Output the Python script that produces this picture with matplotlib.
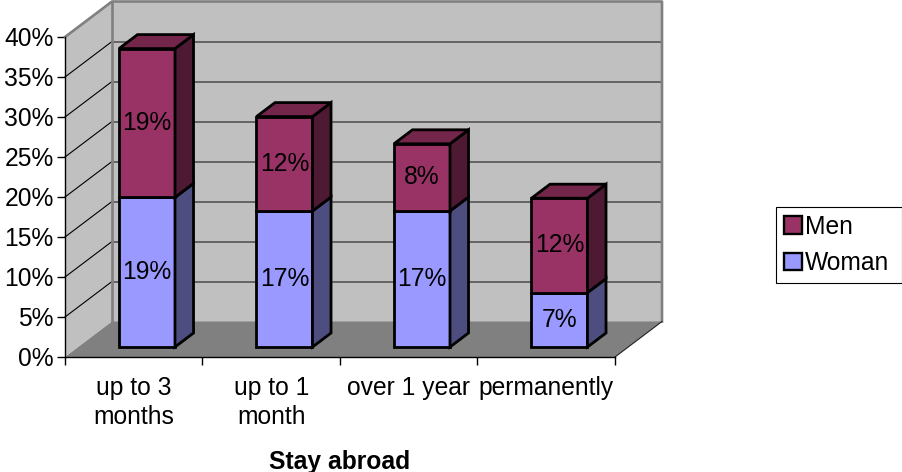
import matplotlib
matplotlib.use('Agg')
import matplotlib.pyplot as plt
from matplotlib.patches import Polygon, Patch, Rectangle

plt.rcParams['font.family'] = ['Liberation Sans', 'DejaVu Sans']

categories = ['up to 3\nmonths', 'up to 1\nmonth', 'over 1 year', 'permanently']
series_names = ['Woman', 'Men']
woman = [18.7, 17.0, 17.0, 6.8]
men = [18.6, 11.8, 8.4, 11.8]
y_ticks = [0, 5, 10, 15, 20, 25, 30, 35, 40]

FONT = 17.7

# depth of the fake 3d box, in axis units
DX = 47 / 137.5
DY = 35.5 / 8
BAR_W = 56 / 137.5
D0 = 10 / 35.5
D1 = 24 / 35.5


def proj(x, y, d):
    return (x + d * DX, y + d * DY)


def box(ax, x, y0, y1, front, side, top=None):
    left = x - BAR_W / 2
    right = x + BAR_W / 2
    faces = [
        ([proj(left, y0, D0), proj(right, y0, D0), proj(right, y1, D0), proj(left, y1, D0)], front),
        ([proj(right, y0, D0), proj(right, y0, D1), proj(right, y1, D1), proj(right, y1, D0)], side),
    ]
    if top is not None:
        faces.append(([proj(left, y1, D0), proj(right, y1, D0), proj(right, y1, D1), proj(left, y1, D1)], top))
    for pts, col in faces:
        ax.add_patch(Polygon(pts, closed=True, facecolor=col, edgecolor='black', lw=2.0,
                             joinstyle='miter', clip_on=False, zorder=5))


fig = plt.figure(figsize=(9.03, 4.72), dpi=100, facecolor='white')
ax = fig.add_axes([65 / 903, (472 - 357) / 472, 550 / 903, 320 / 472])
ax.patch.set_visible(False)
ax.set_xlim(0, 4)
ax.set_ylim(0, 40)

# walls and floor
ax.add_patch(Polygon([proj(0, 0, 1), proj(4, 0, 1), proj(4, 40, 1), proj(0, 40, 1)],
                     facecolor='#c0c0c0', edgecolor='none', clip_on=False, zorder=1))
ax.add_patch(Polygon([proj(0, 0, 0), proj(0, 0, 1), proj(0, 40, 1), proj(0, 40, 0)],
                     facecolor='#c0c0c0', edgecolor='none', clip_on=False, zorder=1))
ax.add_patch(Polygon([proj(0, 0, 0), proj(4, 0, 0), proj(4, 0, 1), proj(0, 0, 1)],
                     facecolor='#808080', edgecolor='none', clip_on=False, zorder=1))

for t in y_ticks[1:-1]:
    a, b = proj(0, t, 0), proj(0, t, 1)
    ax.plot([a[0], b[0]], [a[1], b[1]], color='black', lw=0.8, clip_on=False, zorder=2)
    c = proj(4, t, 1)
    ax.plot([b[0], c[0]], [b[1], c[1]], color='#555555', lw=1.2, clip_on=False, zorder=2)

# grey outline of the back wall
outline = [proj(0, 40, 0), proj(0, 40, 1), proj(4, 40, 1), proj(4, 0, 1)]
ax.plot([p[0] for p in outline], [p[1] for p in outline], color='#808080', lw=1.9, clip_on=False, zorder=3)
a, b = proj(0, 0, 1), proj(0, 40, 1)
ax.plot([a[0], b[0]], [a[1], b[1]], color='#808080', lw=1.9, clip_on=False, zorder=3)
a, b = proj(4, 0, 0), proj(4, 0, 1)
ax.plot([a[0], b[0]], [a[1], b[1]], color='#222222', lw=0.8, clip_on=False, zorder=3)

# bars
for i in range(len(categories)):
    x = i + 0.5
    w = woman[i]
    m = men[i]
    box(ax, x, 0, w, '#9999ff', '#4d4d80')
    box(ax, x, w, w + m, '#993366', '#4d1933', '#732649')
    tx = proj(x, 0, D0)[0]
    ax.text(tx, proj(x, w / 2, D0)[1], '%d%%' % round(w), ha='center', va='center',
            fontsize=FONT, color='black', zorder=6)
    ax.text(tx, proj(x, w + m / 2, D0)[1], '%d%%' % round(m), ha='center', va='center',
            fontsize=FONT, color='black', zorder=6)

# axes
for s in ['top', 'right']:
    ax.spines[s].set_visible(False)
for s in ['left', 'bottom']:
    ax.spines[s].set_linewidth(1.0)
    ax.spines[s].set_zorder(4)
ax.set_yticks(y_ticks)
ax.set_yticklabels(['%d%%' % t for t in y_ticks], fontsize=FONT)
ax.set_xticks(range(len(categories) + 1))
ax.set_xticklabels([])
ax.set_xticks([i + 0.5 for i in range(len(categories))], minor=True)
ax.set_xticklabels(categories, minor=True, fontsize=FONT, linespacing=1.23)
ax.tick_params(axis='both', which='major', length=5.8, width=1.0, pad=3)
ax.tick_params(axis='y', which='major', pad=2.3)
ax.tick_params(axis='x', which='minor', length=0, pad=14)
ax.set_xlabel('Stay abroad', fontsize=FONT, fontweight='bold', labelpad=15)

# legend, Men first; the frame is a separate rectangle so its size can match
fig.add_artist(Rectangle((776 / 903, (472 - 283) / 472), 126.5 / 903, 76 / 472,
                         transform=fig.transFigure, facecolor='white', edgecolor='black', lw=0.8))
handles = [Patch(facecolor='#993366', edgecolor='black', lw=1.7),
           Patch(facecolor='#9999ff', edgecolor='black', lw=1.7)]
fig.legend(handles, [series_names[1], series_names[0]], loc='center left',
           bbox_to_anchor=(776 / 903, (472 - 245) / 472), fontsize=FONT,
           frameon=False, borderaxespad=0,
           handlelength=0.72, handleheight=0.72, handletextpad=0.12,
           labelspacing=0.5, borderpad=0.32)

fig.savefig('out.png', dpi=100)
